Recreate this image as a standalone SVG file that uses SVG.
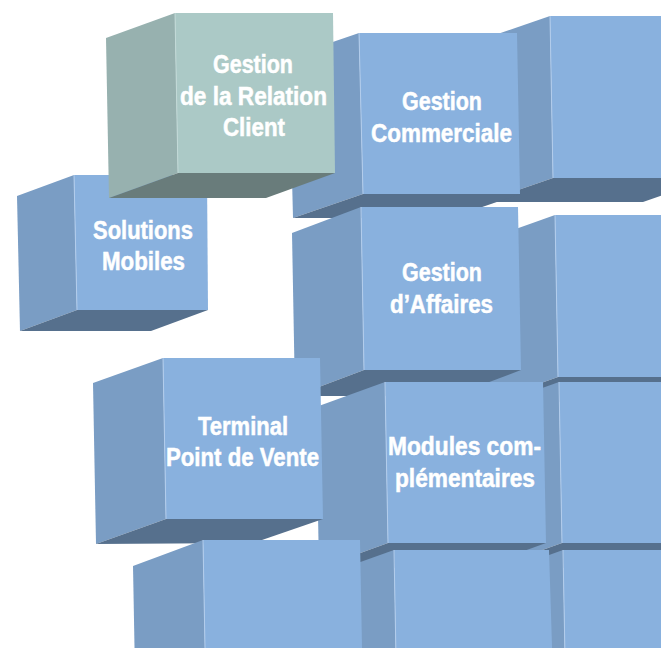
<svg xmlns="http://www.w3.org/2000/svg" width="661" height="648" viewBox="0 0 661 648">
<style>
.fr{fill:#89b1de}
.sd{fill:#7a9dc4}
.bt{fill:#56708d}
.gfr{fill:#abc9c6}
.gsd{fill:#97b1af}
.gbt{fill:#697c7b}
.hl{fill:none;stroke:#b3cdec;stroke-width:1}
.ghl{fill:none;stroke:#c3dad8;stroke-width:1}
.lbl{font-family:"Liberation Sans Narrow","Liberation Sans","DejaVu Sans Condensed",sans-serif;font-weight:bold;font-size:25px;fill:#ffffff;stroke:#ffffff;stroke-width:0.5;text-anchor:middle}
</style>
<rect width="661" height="648" fill="#ffffff"/>

<g id="cube-top-right">
<polygon class="sd" points="550,16 480,40 483,202 553,178"/>
<polygon class="bt" points="553,178 713,178 643,202 483,202"/>
<polygon class="fr" points="550,16 710,16 713,178 553,178"/>
<polyline class="hl" points="550,16 553,178"/>
</g>

<g id="cube-mid-right">
<polygon class="sd" points="555,215 485,240 488,402 558,377"/>
<polygon class="bt" points="558,377 718,377 648,402 488,402"/>
<polygon class="fr" points="555,215 715,215 718,377 558,377"/>
<polyline class="hl" points="555,215 558,377"/>
</g>

<g id="cube-low-right">
<polygon class="sd" points="559,382 489,407 492,568 562,543"/>
<polygon class="bt" points="562,543 722,543 652,568 492,568"/>
<polygon class="fr" points="559,382 719,382 722,543 562,543"/>
<polyline class="hl" points="559,382 562,543"/>
</g>

<g id="cube-bottom-right">
<polygon class="sd" points="563,550 493,575 496,736 566,711"/>
<polygon class="fr" points="563,550 723,550 726,711 566,711"/>
<polyline class="hl" points="563,550 566,711"/>
</g>

<g id="gestion-commerciale">
<polygon class="sd" points="359,33 289,57 293,218 363,194"/>
<polygon class="bt" points="363,194 520,194 450,218 293,218"/>
<polygon class="fr" points="359,33 517,33 520,194 363,194"/>
<polyline class="hl" points="359,33 363,194"/>
<text class="lbl" x="442" y="109.5" textLength="80" lengthAdjust="spacingAndGlyphs">Gestion</text>
<text class="lbl" x="441.5" y="141.5" textLength="141" lengthAdjust="spacingAndGlyphs">Commerciale</text>
</g>

<g id="gestion-affaires">
<polygon class="sd" points="361,207 292,233 295,396 364,370"/>
<polygon class="bt" points="364,370 521,370 452,396 295,396"/>
<polygon class="fr" points="361,207 518,207 521,370 364,370"/>
<polyline class="hl" points="361,207 364,370"/>
<text class="lbl" x="442" y="281" textLength="80" lengthAdjust="spacingAndGlyphs">Gestion</text>
<text class="lbl" x="441.5" y="313" textLength="103" lengthAdjust="spacingAndGlyphs">d’Affaires</text>
</g>

<g id="modules-complementaires">
<polygon class="sd" points="385,382 316,407 319,568 388,543"/>
<polygon class="bt" points="388,543 546,543 477,568 319,568"/>
<polygon class="fr" points="385,382 543,382 546,543 388,543"/>
<polyline class="hl" points="385,382 388,543"/>
<text class="lbl" x="464.5" y="454.5" textLength="153" lengthAdjust="spacingAndGlyphs">Modules com-</text>
<text class="lbl" x="465" y="487" textLength="140" lengthAdjust="spacingAndGlyphs">plémentaires</text>
</g>

<g id="cube-bottom-middle">
<polygon class="sd" points="394,550 324,575 327,736 397,711"/>
<polygon class="fr" points="394,550 549,550 554,711 397,711"/>
<polyline class="hl" points="394,550 397,711"/>
</g>

<g id="solutions-mobiles">
<polygon class="sd" points="74,175 17,196 20,331 77,310"/>
<polygon class="bt" points="77,310 208,310 151,331 20,331"/>
<polygon class="fr" points="74,175 207,175 208,310 77,310"/>
<polyline class="hl" points="74,175 77,310"/>
<text class="lbl" x="143" y="239" textLength="100" lengthAdjust="spacingAndGlyphs">Solutions</text>
<text class="lbl" x="143.5" y="269.5" textLength="83" lengthAdjust="spacingAndGlyphs">Mobiles</text>
</g>

<g id="terminal-point-de-vente">
<polygon class="sd" points="163,358 93,383 96,544 166,519"/>
<polygon class="bt" points="166,519 323,519 253,543 96,544"/>
<polygon class="fr" points="163,358 320,358 323,519 166,519"/>
<polyline class="hl" points="163,358 166,519"/>
<text class="lbl" x="243" y="434.5" textLength="90" lengthAdjust="spacingAndGlyphs">Terminal</text>
<text class="lbl" x="242.5" y="466" textLength="153" lengthAdjust="spacingAndGlyphs">Point de Vente</text>
</g>

<g id="cube-bottom-left">
<polygon class="sd" points="203,540 133,566 136,727 206,701"/>
<polygon class="fr" points="203,540 360,540 363,701 206,701"/>
<polyline class="hl" points="203,540 206,701"/>
</g>

<g id="gestion-relation-client">
<polygon class="gsd" points="175,13 106,38 109,198 178,173"/>
<polygon class="gbt" points="178,173 335,173 266,198 109,198"/>
<polygon class="gfr" points="175,13 333,13 335,173 178,173"/>
<polyline class="ghl" points="175,13 178,173"/>
<text class="lbl" x="253" y="73" textLength="80" lengthAdjust="spacingAndGlyphs">Gestion</text>
<text class="lbl" x="253.5" y="104.5" textLength="147" lengthAdjust="spacingAndGlyphs">de la Relation</text>
<text class="lbl" x="254" y="136" textLength="62" lengthAdjust="spacingAndGlyphs">Client</text>
</g>
</svg>
